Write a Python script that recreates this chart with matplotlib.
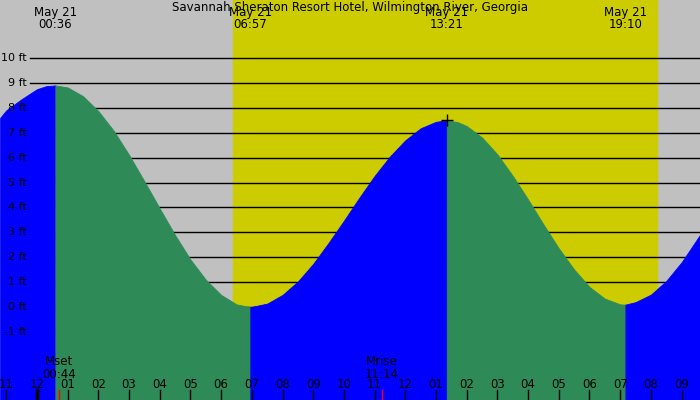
import matplotlib
matplotlib.use("Agg")
import matplotlib.pyplot as plt
import numpy as np

# hours since midnight May 21, tide height (ft)
hours = [-1.2, -1, -0.5, 0, 0.3, 0.6, 1, 1.5, 2, 2.5, 3, 3.5, 4, 4.5, 5, 5.5, 6, 6.5, 6.95,
         7.5, 8, 8.5, 9, 9.5, 10, 10.5, 11, 11.5, 12, 12.5, 13, 13.35,
         13.7, 14, 14.5, 15, 15.5, 16, 16.5, 17, 17.5, 18, 18.5, 19, 19.17,
         19.5, 20, 20.5, 21, 21.3, 21.6]
heights = [7.6, 7.9, 8.35, 8.75, 8.87, 8.9, 8.82, 8.47, 7.87, 7.08, 6.11, 5.05, 3.96, 2.89,
           1.91, 1.10, 0.49, 0.11, 0.0,
           0.14, 0.49, 1.03, 1.74, 2.58, 3.47, 4.39, 5.27, 6.05, 6.70, 7.18, 7.44, 7.5,
           7.43, 7.27, 6.81, 6.13, 5.27, 4.32, 3.32, 2.36, 1.51, 0.81, 0.34, 0.11, 0.1,
           0.2, 0.5, 1.05, 1.8, 2.35, 2.9]
extreme_hours = [0.6, 6.95, 13.35, 19.17]
extreme_labels = ["00:36", "06:57", "13:21", "19:10"]
sunrise, sunset = 6.4, 20.2
moon_hours = [0.73, 11.23]
moon_names = ["Mset", "Mrise"]
moon_times = ["00:44", "11:14"]
title = "Savannah Sheraton Resort Hotel, Wilmington River, Georgia"

X0, X1, Y0, Y1 = -1.205, 21.6, -3.73, 12.33
fig = plt.figure(figsize=(7, 4), dpi=100)
ax = fig.add_axes([0, 0, 1, 1])
ax.set_xlim(X0, X1); ax.set_ylim(Y0, Y1)
ax.axis("off")
ax.axvspan(X0, X1, color="#c0c0c0", zorder=0)
ax.axvspan(sunrise, sunset, color="#cccc00", zorder=0.5)
for f in range(-1, 11):
    ax.plot([-0.23, X1], [f, f], color="black", lw=1, zorder=1)
    ax.text(-0.33, f, f"{f} ft", ha="right", va="center", fontsize=8, zorder=5)

h = np.array(hours); v = np.array(heights)
bounds = [X0] + extreme_hours + [X1]
for i in range(len(bounds) - 1):
    m = (h >= bounds[i] - 1e-9) & (h <= bounds[i + 1] + 1e-9)
    col = "#0000ff" if i % 2 == 0 else "#2e8b57"
    ax.fill_between(h[m], Y0, v[m], color=col, lw=0.6, edgecolor=col, zorder=2)

ax.plot([13.35], [7.5], marker="+", color="black", ms=8, zorder=3)
ax.text((X0 + X1) / 2, 12.33 - 0.32, title, ha="center", va="center", fontsize=8.5)
for eh, lab in zip(extreme_hours, extreme_labels):
    ax.text(eh, 11.81, "May 21", ha="center", va="center", fontsize=8.5)
    ax.text(eh, 11.33, lab, ha="center", va="center", fontsize=8.5)

py = lambda p: Y1 - p * (Y1 - Y0) / 400
for hr in range(-1, 22):
    lab = "%02d" % (12 if hr % 12 == 0 else hr % 12)
    ax.text(hr, py(385), lab, ha="center", va="center", fontsize=8.5, zorder=4)
    ax.plot([hr, hr], [py(390), Y0], color="black", lw=2.5 if hr == 0 else 1, zorder=4)
for mh, mn, mt in zip(moon_hours, moon_names, moon_times):
    ax.text(mh, py(362), mn, ha="center", va="center", fontsize=8.5, zorder=4)
    ax.text(mh, py(374), mt, ha="center", va="center", fontsize=8.5, zorder=4)
    ax.plot([mh, mh], [py(390), Y0], color="red", lw=1, zorder=4)

fig.savefig("out.png", dpi=100)
